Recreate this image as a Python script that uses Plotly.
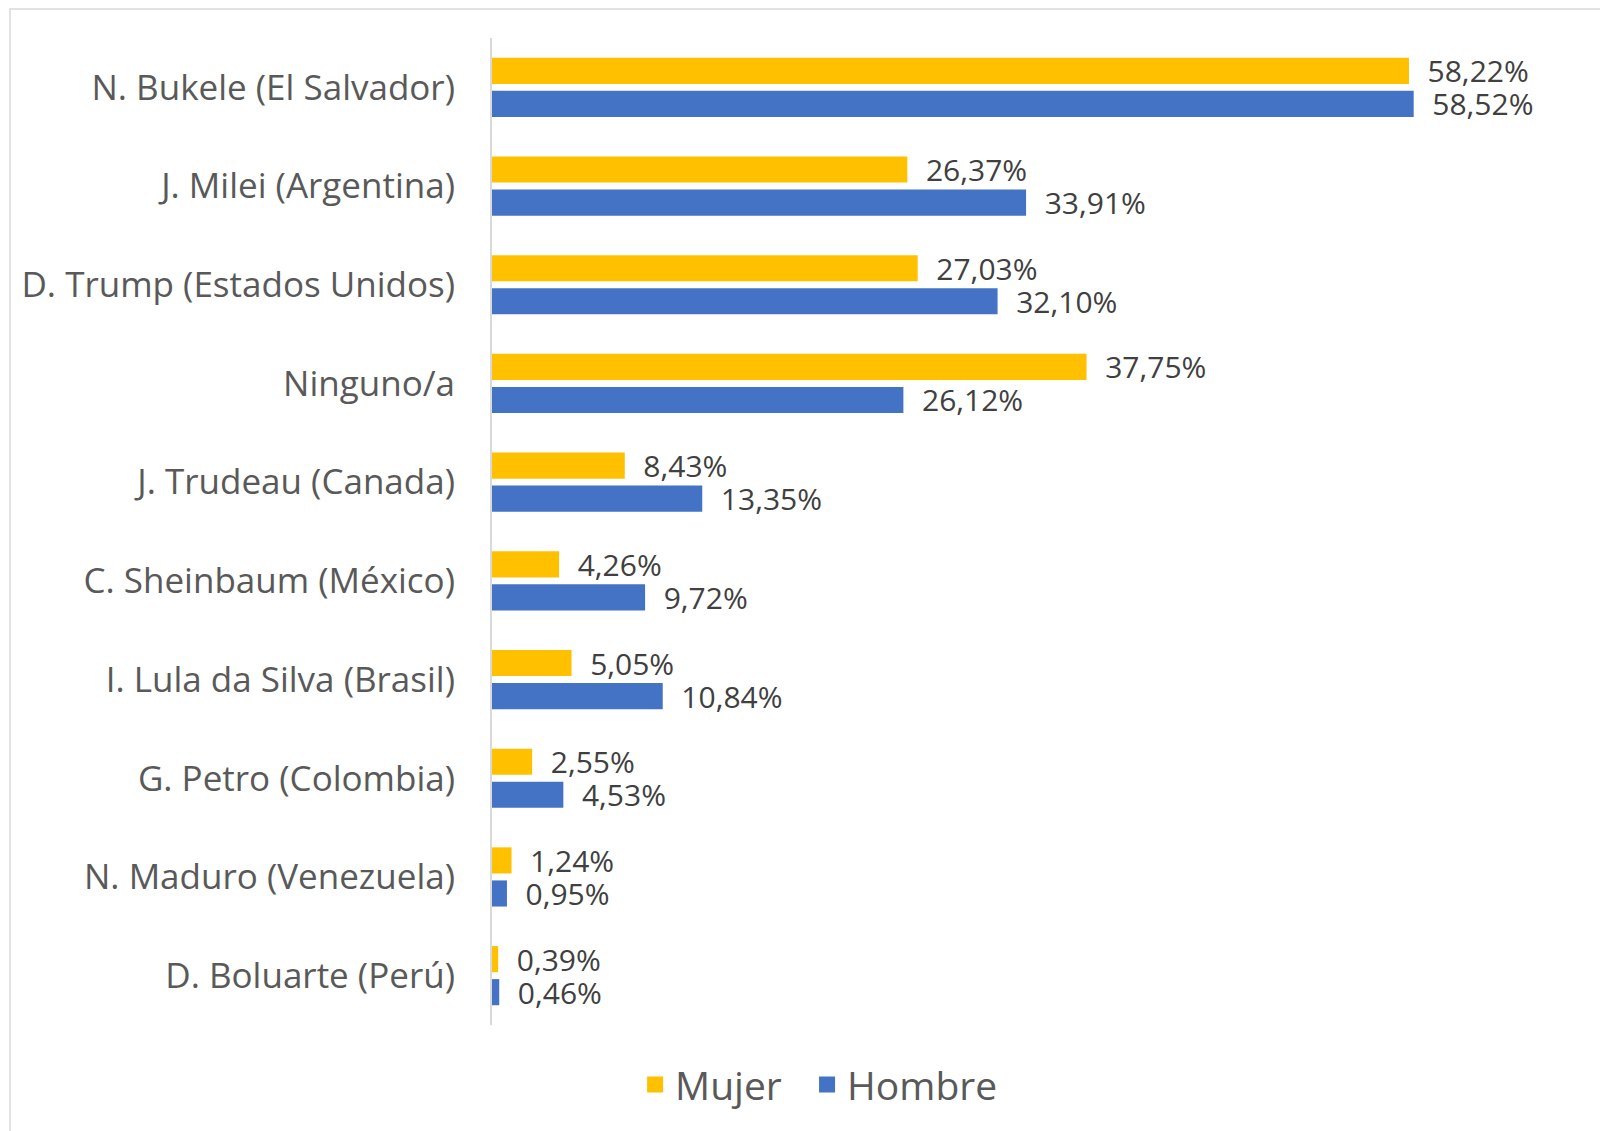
import plotly.graph_objects as go

categories = [
    "N. Bukele (El Salvador)",
    "J. Milei (Argentina)",
    "D. Trump (Estados Unidos)",
    "Ninguno/a",
    "J. Trudeau (Canada)",
    "C. Sheinbaum (México)",
    "I. Lula da Silva (Brasil)",
    "G. Petro (Colombia)",
    "N. Maduro (Venezuela)",
    "D. Boluarte (Perú)",
]
mujer = [58.22, 26.37, 27.03, 37.75, 8.43, 4.26, 5.05, 2.55, 1.24, 0.39]
hombre = [58.52, 33.91, 32.10, 26.12, 13.35, 9.72, 10.84, 4.53, 0.95, 0.46]
series_names = ["Mujer", "Hombre"]
series_colors = ["#FFC000", "#4472C4"]

FONT = "Open Sans"
OFF = 8  # page body margin
W, H = 1608 - OFF, 1131 - OFF
L, T = 492 - OFF, 38 - OFF
R = W - (1560 - OFF)
B = H - (1025 - OFF)
pw, ph = W - L - R, H - T - B

fig = go.Figure()
for name, vals, col in zip(series_names, [mujer, hombre], series_colors):
    fig.add_trace(go.Bar(
        name=name, y=categories, x=vals, orientation="h",
        marker=dict(color=col, line=dict(width=0)),
        texttemplate="\u00a0\u00a0%{x:.2f}%", textposition="outside",
        constraintext="none",
        textfont=dict(family=FONT, size=30, color="#404040"),
        cliponaxis=False, showlegend=False,
    ))
# legend entries with larger square symbols (trailing spaces widen item spacing)
legend_pad = ["\u00a0\u00a0", ""]
for name, col, pad in zip(series_names, series_colors, legend_pad):
    fig.add_trace(go.Scatter(
        name=name + pad, x=[None], y=[None], mode="markers",
        marker=dict(symbol="square", size=16, color=col, line=dict(width=0)),
        showlegend=True,
    ))

def px_x(p):
    return (p - OFF - L) / pw

def px_y(p):
    return 1 - (p - OFF - T) / ph

fig.update_layout(
    width=W, height=H,
    margin=dict(l=L, r=R, t=T, b=B, autoexpand=False),
    paper_bgcolor="white", plot_bgcolor="white",
    barmode="group", bargap=0.33, bargroupgap=0.21,
    separators=",.",
    font=dict(family=FONT, color="#595959"),
    xaxis=dict(range=[0, pw / 15.75], visible=False, showgrid=False, zeroline=False),
    yaxis=dict(autorange="reversed", showline=True, linecolor="#d9d9d9", linewidth=2,
               ticks="", showgrid=False, ticklabelstandoff=28,
               tickfont=dict(family=FONT, size=35, color="#595959")),
    legend=dict(orientation="h", x=0.134, xanchor="left", y=-0.028, yanchor="top",
                font=dict(family=FONT, size=39, color="#595959"),
                itemsizing="trace", traceorder="normal"),
    showlegend=True,
    shapes=[dict(type="rect", xref="paper", yref="paper",
                 x0=px_x(10), x1=px_x(1640), y0=px_y(1160), y1=px_y(9),
                 line=dict(color="#d9d9d9", width=1.5), fillcolor="rgba(0,0,0,0)", layer="below")],
)

fig.write_html("out.html")
